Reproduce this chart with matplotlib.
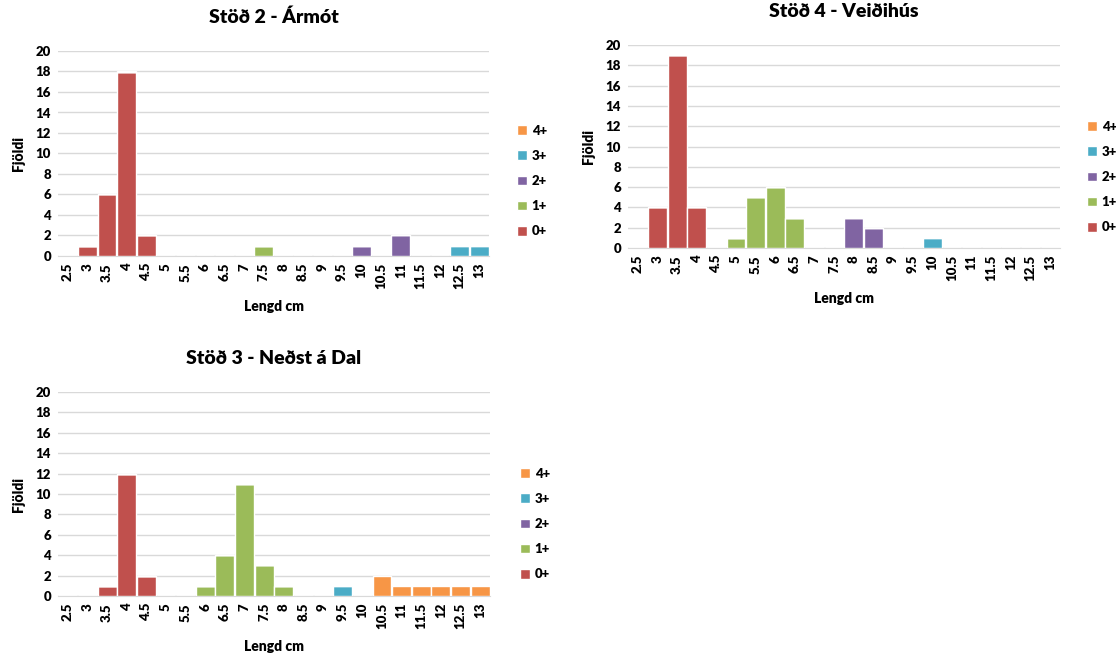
import matplotlib
matplotlib.use("Agg")
import matplotlib.pyplot as plt
import numpy as np

plt.rcParams['font.family'] = ['Lato', 'DejaVu Sans']
plt.rcParams['font.weight'] = 'heavy'

categories = ["2.5", "3", "3.5", "4", "4.5", "5", "5.5", "6", "6.5", "7", "7.5", "8",
              "8.5", "9", "9.5", "10", "10.5", "11", "11.5", "12", "12.5", "13"]
series_names = ["0+", "1+", "2+", "3+", "4+"]
colors = ["#C0504D", "#9BBB59", "#8064A2", "#4BACC6", "#F79646"]

# Stöð 2 - Ármót
s2_0 = [0, 1, 6, 18, 2, 0, 0, 0, 0, 0, 0, 0, 0, 0, 0, 0, 0, 0, 0, 0, 0, 0]
s2_1 = [0, 0, 0, 0, 0, 0, 0, 0, 0, 0, 1, 0, 0, 0, 0, 0, 0, 0, 0, 0, 0, 0]
s2_2 = [0, 0, 0, 0, 0, 0, 0, 0, 0, 0, 0, 0, 0, 0, 0, 1, 0, 2, 0, 0, 0, 0]
s2_3 = [0, 0, 0, 0, 0, 0, 0, 0, 0, 0, 0, 0, 0, 0, 0, 0, 0, 0, 0, 0, 1, 1]
s2_4 = [0] * 22

# Stöð 4 - Veiðihús
s4_0 = [0, 4, 19, 4, 0, 0, 0, 0, 0, 0, 0, 0, 0, 0, 0, 0, 0, 0, 0, 0, 0, 0]
s4_1 = [0, 0, 0, 0, 0, 1, 5, 6, 3, 0, 0, 0, 0, 0, 0, 0, 0, 0, 0, 0, 0, 0]
s4_2 = [0, 0, 0, 0, 0, 0, 0, 0, 0, 0, 0, 3, 2, 0, 0, 0, 0, 0, 0, 0, 0, 0]
s4_3 = [0, 0, 0, 0, 0, 0, 0, 0, 0, 0, 0, 0, 0, 0, 0, 1, 0, 0, 0, 0, 0, 0]
s4_4 = [0] * 22

# Stöð 3 - Neðst á Dal
s3_0 = [0, 0, 1, 12, 2, 0, 0, 0, 0, 0, 0, 0, 0, 0, 0, 0, 0, 0, 0, 0, 0, 0]
s3_1 = [0, 0, 0, 0, 0, 0, 0, 1, 4, 11, 3, 1, 0, 0, 0, 0, 0, 0, 0, 0, 0, 0]
s3_2 = [0] * 22
s3_3 = [0, 0, 0, 0, 0, 0, 0, 0, 0, 0, 0, 0, 0, 0, 1, 0, 0, 0, 0, 0, 0, 0]
s3_4 = [0, 0, 0, 0, 0, 0, 0, 0, 0, 0, 0, 0, 0, 0, 0, 0, 2, 1, 1, 1, 1, 1]

W, H = 1116, 655
fig = plt.figure(figsize=(W / 100, H / 100), dpi=100)
WT = 'heavy'


def px_axes(x0, y_top, x1, y_bottom):
    return fig.add_axes([x0 / W, 1 - y_bottom / H, (x1 - x0) / W, (y_bottom - y_top) / H])


def draw(ax, title, data, legend_anchor):
    x = np.arange(len(categories))
    bottom = np.zeros(len(categories))
    handles = []
    for vals, name, c in zip(data, series_names, colors):
        v = np.array(vals, dtype=float)
        b = ax.bar(x, v, bottom=bottom, width=0.96, color=c, edgecolor='white',
                   linewidth=1.0, label=name, zorder=3)
        handles.append(b)
        bottom += v
    ax.set_xlim(-0.5, len(categories) - 0.5)
    ax.set_ylim(0, 20)
    ax.set_yticks(range(0, 21, 2))
    ax.set_xticks(x)
    ax.set_xticklabels(categories, rotation=90, fontsize=9.5, fontweight=WT)
    for lab in ax.get_yticklabels():
        lab.set_fontsize(9.5)
        lab.set_fontweight(WT)
    ax.tick_params(length=0, pad=5)
    ax.grid(axis='y', color='#D9D9D9', linewidth=1, zorder=0)
    for s in ['top', 'right', 'left']:
        ax.spines[s].set_visible(False)
    ax.spines['bottom'].set_color('#D9D9D9')
    ax.spines['bottom'].set_zorder(1)
    ax.set_title(title, fontsize=14, fontweight=WT, pad=20)
    ax.set_ylabel("Fjöldi", fontsize=10, fontweight=WT, labelpad=8)
    ax.set_xlabel("Lengd cm", fontsize=10, fontweight=WT, labelpad=8)
    leg = ax.legend(handles[::-1], series_names[::-1], loc='center left',
                    bbox_to_anchor=legend_anchor, bbox_transform=fig.transFigure,
                    frameon=False, fontsize=9.5, handlelength=0.75, handleheight=0.75,
                    handletextpad=0.35, labelspacing=1.0, borderaxespad=0)
    for t in leg.get_texts():
        t.set_fontweight(WT)


ax1 = px_axes(58, 51, 489, 256)
draw(ax1, "Stöð 2 - Ármót", [s2_0, s2_1, s2_2, s2_3, s2_4], (512 / W, 1 - 181 / H))

ax2 = px_axes(628, 45, 1060, 248)
draw(ax2, "Stöð 4 - Veiðihús", [s4_0, s4_1, s4_2, s4_3, s4_4], (1082 / W, 1 - 177 / H))

ax3 = px_axes(58, 392, 490, 596)
draw(ax3, "Stöð 3 - Neðst á Dal", [s3_0, s3_1, s3_2, s3_3, s3_4], (515 / W, 1 - 524 / H))

fig.savefig("out.png", dpi=100)
